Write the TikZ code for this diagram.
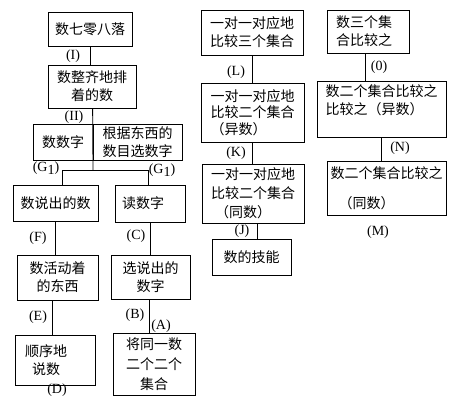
\documentclass[tikz,border=0pt]{standalone}
\usepackage{fontspec}
\setmainfont{Liberation Serif}
\newfontfamily\cjk{Noto Sans CJK SC}
\usetikzlibrary{positioning,calc}
\tikzset{
  every node/.style={align=center},
  block/.style={
    draw, line width=0.8pt, inner sep=2pt,
    font=\cjk\fontsize{14}{18}\selectfont
  },
  tag/.style={font=\fontsize{14}{14}\selectfont, inner sep=0pt},
  link/.style={line width=0.8pt}
}

\begin{document}
\begin{tikzpicture}[x=1pt, y=-1pt]
\useasboundingbox (0,0) rectangle (463,408);

%% ===========================================================================
%% Left column: counting
%% ===========================================================================

  % top of the tree
  \node[block, minimum width=84, minimum height=34] (qiling)  at (90,29)    {数七零八落};
  \node[block, minimum width=88, minimum height=43] (zhengqi) at (92,86.5)  {数整齐地排\\着的数};

  % the split pair
  \node[block, minimum width=60, minimum height=36] (shushu)  at (63,142)   {数数字};
  \node[block, minimum width=89, minimum height=36] (genju)   at (137.5,142) {根据东西的\\数目选数字};

  % two branches
  \node[block, minimum width=85, minimum height=36] (shuochu) at (55.5,203) {数说出的数};
  \node[block, minimum width=70, minimum height=37] (duzi)    at (150,203.5) {读数字\hspace*{14pt}};
  \node[block, minimum width=81, minimum height=45] (huodong) at (57.5,277.5) {数活动着\\的东西};
  \node[block, minimum width=79, minimum height=44] (xuanzi)  at (150.5,277) {选说出的\\数字};
  \node[block, minimum width=80, minimum height=50] (shunxu)  at (55,360)
    {\hspace*{-18pt}顺序地\\\hspace*{-18pt}说数};
  \node[block, minimum width=82, minimum height=62, font=\cjk\fontsize{14}{20}\selectfont] (jiangtong) at (154,364)
    {将同一数\\二个二个\\集合};

  % connectors
  \coordinate (fork)  at (93,170);
  \coordinate (forkL) at (62,170);
  \coordinate (forkR) at (148,170);
  \draw[link] (qiling.south) -- (qiling.south |- zhengqi.north);
  \draw[link] (zhengqi.south -| genju.west) -- (fork);
  \draw[link] (forkL |- shuochu.north) -- (forkL) -- (forkR) -- (forkR |- duzi.north);
  \draw[link] (shuochu.south) -- (shuochu.south |- huodong.north);
  \draw[link] (duzi.south) -- (duzi.south |- xuanzi.north);
  \draw[link] ([xshift=-3pt]shunxu.north) -- ([xshift=-3pt]shunxu.north |- huodong.south);
  \draw[link] ([xshift=-1pt]xuanzi.south) -- ([xshift=-1pt]xuanzi.south |- jiangtong.north);

  % labels
  \node[tag] (tI)  at (73,56)   {(I)};
  \node[tag] (tII) at (74,117)  {(II)};
  \node[tag] (tGa) at (46,168)  {(G\raisebox{-3pt}{1})};
  \node[tag] (tGb) at (162,170) {(G\raisebox{-3pt}{1})};
  \node[tag] (tF)  at (38,238)  {(F)};
  \node[tag] (tC)  at (136,236) {(C)};
  \node[tag] (tE)  at (38,317)  {(E)};
  \node[tag] (tB)  at (135,315) {(B)};
  \node[tag] (tA)  at (161,326) {(A)};
  \node[tag] (tD)  at (57,390)  {(D)};

%% ===========================================================================
%% Middle column: one-to-one comparison
%% ===========================================================================

  \node[block, minimum width=102, minimum height=45] (sanji)   at (252,32.5) {一对一对应地\\比较三个集合};
  \node[block, minimum width=103, minimum height=59, align=left,
        font=\cjk\fontsize{14}{16.5}\selectfont] (erjiyi)  at (252.5,112.5)
    {一对一对应地\\比较二个集合\\（异数）};
  \node[block, minimum width=102, minimum height=59, align=left,
        font=\cjk\fontsize{14}{19}\selectfont] (erjitong) at (253,193.5)
    {一对一对应地\\比较二个集合\\\hspace*{4pt}（同数）};
  \node[block, minimum width=79, minimum height=36] (jineng)  at (251.5,257) {数的技能};

  \draw[link] (sanji.south) -- (sanji.south |- erjiyi.north);
  \draw[link] (erjiyi.south) -- (erjiyi.south |- erjitong.north);
  \draw[link] ([xshift=4pt]erjitong.south) -- ([xshift=4pt]erjitong.south |- jineng.north);

  \node[tag] (tL) at (236,72)  {(L)};
  \node[tag] (tK) at (236,153) {(K)};
  \node[tag] (tJ) at (242,231) {(J)};

%% ===========================================================================
%% Right column: counting the sets
%% ===========================================================================

  \node[block, minimum width=82, minimum height=43] (shusan)   at (368,31.5)
    {\hspace*{-8pt}数三个集\\\hspace*{-8pt}合比较之};
  \node[block, minimum width=129, minimum height=56, align=left] (shuyi) at (381.5,109)
    {数二个集合比较之\\比较之（异数）\\\mbox{}};
  \node[block, minimum width=119, minimum height=54, align=left] (shutong) at (386.5,188)
    {数二个集合比较之\\[12pt]\hspace*{8pt}（同数）};

  \draw[link] ([xshift=-3pt]shusan.south) -- ([xshift=-3pt]shusan.south |- shuyi.north);
  \draw[link] (shuyi.south) -- (shuyi.south |- shutong.north);

  \node[tag] (tO) at (379,67)  {(0)};
  \node[tag] (tN) at (400,148) {(N)};
  \node[tag] (tM) at (378,232) {(M)};

\end{tikzpicture}
\end{document}
